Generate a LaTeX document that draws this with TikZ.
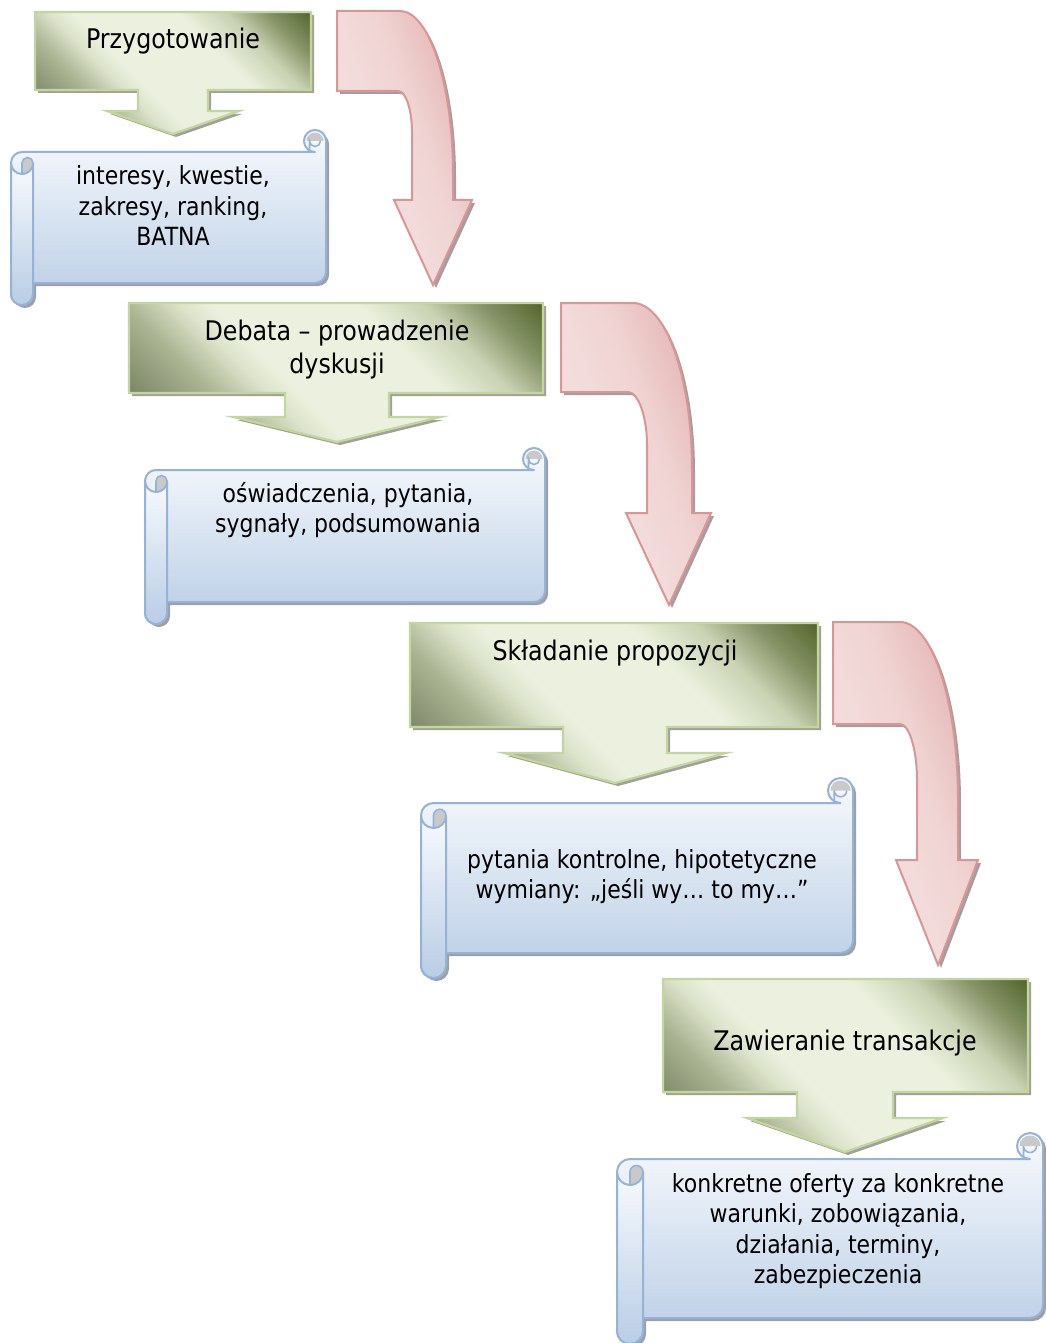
\documentclass[tikz,border=0pt]{standalone}
\usepackage{fontspec}
\setmainfont{DejaVu Sans}[FakeStretch=0.88]
\definecolor{gdark}{HTML}{4F6228}
\definecolor{gA}{HTML}{6E7B56}
\definecolor{gB}{HTML}{7D8868}
\definecolor{gC}{HTML}{AAB392}
\definecolor{gD}{HTML}{DCE3CB}
\definecolor{glight}{HTML}{EBF1DE}
\definecolor{gE}{HTML}{C9D2B3}
\definecolor{gF}{HTML}{879468}
\definecolor{gedge}{HTML}{C3D69B}
\definecolor{rA}{HTML}{F5E3E2}
\definecolor{rlight}{HTML}{F2DCDB}
\definecolor{rB}{HTML}{EFD3D2}
\definecolor{rC}{HTML}{E5B9B8}
\definecolor{rD}{HTML}{E0AEAD}
\definecolor{redge}{HTML}{D99694}
\definecolor{btop}{HTML}{F8FAFD}
\definecolor{bbot}{HTML}{B9CDE5}
\definecolor{bedge}{HTML}{95B3D7}
\definecolor{curlc}{HTML}{C9C9C9}
\definecolor{shadowc}{HTML}{A0A0A0}
\pgfdeclarehorizontalshading{greenband}{100bp}{color(0bp)=(gA); color(25bp)=(gA); color(30bp)=(gB); color(37bp)=(gC); color(42bp)=(gD); color(45bp)=(glight); color(58bp)=(glight); color(64bp)=(gE); color(69bp)=(gF); color(75bp)=(gdark); color(100bp)=(gdark)}
\pgfdeclarehorizontalshading{redband}{100bp}{color(0bp)=(rA); color(25bp)=(rA); color(45bp)=(rlight); color(55bp)=(rB); color(66bp)=(rC); color(75bp)=(rD); color(100bp)=(rD)}
\tikzset{
  gline/.style={draw=gedge, line width=2.2pt},
  rline/.style={draw=redge, line width=2pt},
  bshape/.style={draw=bedge, line width=2pt, top color=btop, bottom color=bbot, line join=round},
  curlshape/.style={draw=bedge, line width=1.6pt, fill=curlc},
  shad/.style={fill=shadowc, draw=none},
  headtxt/.style={anchor=base, inner sep=0pt, font=\fontsize{27}{33}\selectfont},
  bodytxt/.style={anchor=base, inner sep=0pt, font=\fontsize{25}{30.5}\selectfont},
}
% path, cx, cy, half length along axis, half length across, angle, shading, outline style
\newcommand\gradshape[8]{%
  \path[shad,shift={(3,3)}] #1;
  \begin{scope}
    \clip #1;
    \shade[shading=#7, transform canvas={shift={(#2,#3)},rotate=#6}] (-#4,-#5) rectangle (#4,#5);
  \end{scope}
  \path[#8] #1;
}
% x0 y0 x1 y1 cx stemhalf winghalf stembottom tipy
\newcommand\calloutshp[9]{%
  \def\cpath{(#1,#2) -- (#3,#2) -- (#3,#4) -- ({#5+#6},#4) -- ({#5+#6},#8) -- ({#5+#7},#8) -- (#5,#9) -- ({#5-#7},#8) -- ({#5-#6},#8) -- ({#5-#6},#4) -- (#1,#4) -- cycle}%
  \pgfmathsetmacro\cxx{(#1+#3)/2}%
  \pgfmathsetmacro\cyy{(#2+#9)/2}%
  \pgfmathsetmacro\hsp{((#3-#1)+(#9-#2))*0.35355+2}%
  \gradshape{\cpath}{\cxx}{\cyy}{\hsp}{\hsp}{45}{greenband}{gline}%
}
% X0 X1 Ytop Ybottom Ystrip h
\newcommand\scrollshp[6]{%
  \def\spath{({#1},{#3+3*#6}) arc[start angle=180,end angle=270,radius=#6] -- ({#2-#6},{#3+2*#6}) arc[start angle=90,end angle=360,radius=#6] -- ({#2},{#4-#6}) arc[start angle=0,end angle=90,radius=#6] -- ({#1+2*#6},{#4}) -- ({#1+2*#6},{#5-#6}) arc[start angle=0,end angle=180,radius=#6] -- cycle}%
  \path[shad,shift={(3,3)}] \spath;
  \path[bshape] \spath;
  \path[bshape] ({#1},{#3+3*#6}) arc[start angle=180,end angle=0,radius=#6] -- ({#1+2*#6},{#5-#6}) arc[start angle=0,end angle=180,radius=#6] -- cycle;
  \path[curlshape] ({#1+#6},{#3+3*#6}) arc[start angle=180,end angle=360,radius={#6/2}] arc[start angle=0,end angle=90,radius=#6] -- cycle;
  \path[fill=curlc] ({#2-2*#6+2.5},{#3+#6}) arc[start angle=180,end angle=360,radius={#6-2.5}] -- cycle;
  \draw[bedge, line width=1.6pt] ({#2-1.5*#6},{#3+2*#6}) -- ({#2-1.5*#6},{#3+#6}) arc[start angle=180,end angle=0,radius={#6/2}];
}
\def\redA{(337,11) -- (400,11) .. controls (429,11) and (453,84) .. (453,175) -- (453,200) -- (472,200) -- (433,285) -- (394,200) -- (412,200) -- (412,133) .. controls (412,110) and (406,91) .. (398,91) -- (337,91) -- cycle}
\def\redB{(561,303) -- (633,303) .. controls (666,303) and (692,378) .. (692,470) -- (692,513) -- (711,513) -- (669,605) -- (626,513) -- (647,513) -- (647,445) .. controls (647,416) and (638,392) .. (628,392) -- (561,392) -- cycle}
\def\redC{(833,622) -- (900,622) .. controls (932,622) and (958,702) .. (958,800) -- (958,860) -- (978,860) -- (938,965) -- (896,860) -- (917,860) -- (917,780) .. controls (917,749) and (909,724) .. (900,724) -- (833,724) -- cycle}
\begin{document}
\begin{tikzpicture}[x=1pt,y=-1pt]
\useasboundingbox[fill=white] (0,0) rectangle (1045,1343);

% green callouts
\calloutshp{35}{12}{311}{90}{173}{35}{66}{111}{134}
\calloutshp{129}{303}{543}{393}{337}{52}{103.5}{417}{442}
\calloutshp{410}{623}{818}{727}{615}{52}{111}{753}{783}
\calloutshp{663}{979}{1028}{1092}{845}{48}{98}{1118}{1152}

% red bent arrows
\gradshape{\redA}{404.5}{148}{112}{156}{20}{redband}{rline}
\gradshape{\redB}{636}{454}{124}{172}{20}{redband}{rline}
\gradshape{\redC}{905.5}{793.5}{129}{190}{20}{redband}{rline}

% scrolls
\scrollshp{11}{326}{130}{283}{305}{11}
\scrollshp{145}{545}{448}{602}{624}{11}
\scrollshp{421}{853}{778}{953}{978}{12.5}
\scrollshp{617}{1043}{1133}{1318}{1344}{13}

% texts
\node[headtxt] (h1) at (173,49) {Przygotowanie};
\node[headtxt] (h2) at (337,340) {\begin{tabular}[t]{@{}c@{}}Debata – prowadzenie\\dyskusji\end{tabular}};
\node[headtxt] (h3) at (615,660) {Składanie propozycji};
\node[headtxt] (h4) at (845,1050) {Zawieranie transakcje};

\node[bodytxt] (b1) at (173,185) {\begin{tabular}[t]{@{}c@{}}interesy, kwestie,\\zakresy, ranking,\\BATNA\end{tabular}};
\node[bodytxt] (b2) at (348,502) {\begin{tabular}[t]{@{}c@{}}oświadczenia, pytania,\\sygnały, podsumowania\end{tabular}};
\node[bodytxt] (b3) at (642,868) {\begin{tabular}[t]{@{}c@{}}pytania kontrolne, hipotetyczne\\wymiany: „jeśli wy… to my…”\end{tabular}};
\node[bodytxt] (b4) at (838,1192) {\begin{tabular}[t]{@{}c@{}}konkretne oferty za konkretne\\warunki, zobowiązania,\\działania, terminy,\\zabezpieczenia\end{tabular}};
\end{tikzpicture}
\end{document}
